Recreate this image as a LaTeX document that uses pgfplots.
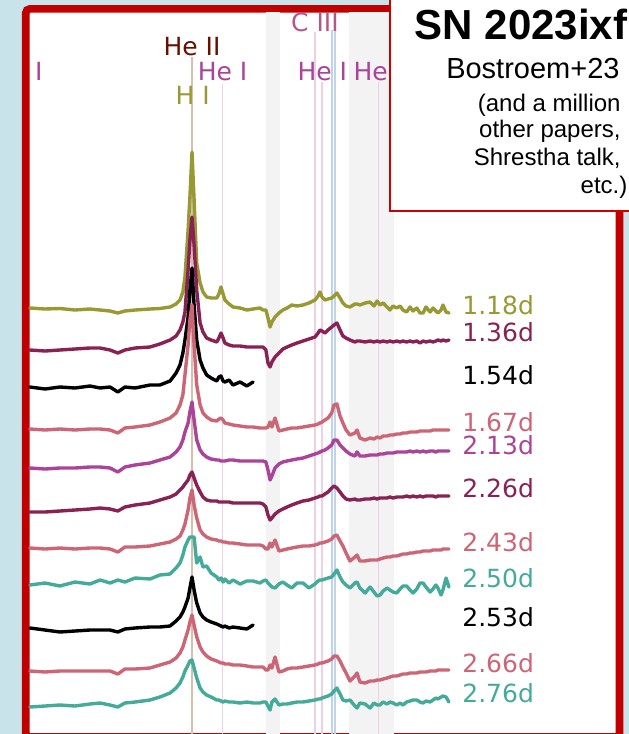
\documentclass[border=0pt]{standalone}
\usepackage{pgfplots}
\pgfplotsset{compat=1.18}
\usepackage{pgfplotstable}
\usepackage{fontspec}
\setmainfont{DejaVu Sans}
\newfontfamily\arialfont{Liberation Sans}

\definecolor{bgblue}{RGB}{200,228,234}
\definecolor{framered}{RGB}{192,0,0}
\definecolor{boxred}{RGB}{204,0,0}
\definecolor{tolive}{HTML}{999933}
\definecolor{twine}{HTML}{882255}
\definecolor{trose}{HTML}{CC6677}
\definecolor{tpurple}{HTML}{AA4499}
\definecolor{tteal}{HTML}{44AA99}
\definecolor{heii}{HTML}{661100}
\definecolor{ciii}{RGB}{180,85,140}
\definecolor{hline}{RGB}{214,192,172}
\definecolor{pline}{RGB}{236,208,228}
\definecolor{bline}{RGB}{192,212,232}
\definecolor{band}{RGB}{243,243,243}

\tikzset{
  spec/.style={line width=1.7pt, line join=round, line cap=round},
  lbl/.style={anchor=base, inner sep=0pt, font=\fontsize{12.5}{15}\selectfont},
  dlbl/.style={anchor=west, inner sep=0pt, font=\fontsize{12.5}{15}\selectfont},
}

% wavelength (A) and offset flux (plotted downward, arbitrary units)
\pgfplotstableread{
lam s1 s2 s3 s4 s5 s6 s7 s8 s9 s10 s11
5942 308 350 387 429 468 512 548 585 628 671 707
6000 309 351 389 430 469 512 549 583 630 672 706
6057 308.5 350 387 429 468 511 548 586 632 671 705
6115 310 349 388 430 468 510 549 582 631 671 706
6172 309 348 386 429 467 509 548 584 630 671 704
6211 310 348 388 429 467 508 548 580 630 671 703
6249 311 350 387 430 468 509 549 583 630 671 705
6279 313 353 392 433 472 511 552 580 632 674 707
6306 311 350 387 428 467 507 547 582 629 669 703
6345 310 348 388 427 465 505 547 578 628 669 702
6402 309 347 385 425 463 503 546 579 627 668 700
6440 308.5 344 385 422 460 500 544 575 627 665 697
6479 307 340 381 418 457 497 542 574 626 662 693
6502 304 336 373 413 452 494 539 568 621 658 688
6517 300 330 365 405 447 490 536 563 617 653 683
6528 292 322 353 395 440 487 530 555 612 647 677
6536 277 312 340 375 432 484 524 547 607 640 671
6548 230 270 317 345 423 480 510 540 598 630 665
6555 197 240 290 320 412 475 498 537 588 622 661
6563 152 217 268 305 402 472 490 537 577 615 660
6571 200 245 305 345 420 478 505 537 590 625 668
6581 263 290 340 385 440 485 518 563 603 637 678
6594 283 323 360 405 450 492 530 557 613 647 688
6605 292 332 368 413 454 497 534 567 617 652 692
6619 297 338 375 417 457 500 537 566 620 656 695
6636 298 340 378 420 459 501 539 573 622 659 697
6658 298 342 381 421 460 501 540 577 624 661 700
6666 294 338 377 419 460 502 541 580 625 662 700
6674 287 333 376 418 461 502 541 578 626 663 701
6682 294 338 381 420 461 502 542 582 627 663 702
6689 300 343 382 423 461 502 542 579 626 664 701
6705 304 345 380 424 460 502 543 583 628 664 702
6720 307 346 385 425 460 503 543 580 627 665 702
6747 308 346 382 426 461 503 544 584 628 665 703
6773 310 347 386 427 461 503 545 581 629 666 702
6797 309 347 382 427 461 503 545 581 625 667 703
6823 308 347 nan 428 461 503 545 583 nan 667 703
6835 310 347 nan 428 461 504 546 581 nan 667 702
6846 310 350 nan 428 462 507 549 580 nan 670 702
6854 318 363 nan 427 470 515 549 583 nan 670 706
6862 327 367 nan 422 480 520 543 585 nan 665 710
6869 322 362 nan 427 476 518 547 587 nan 668 702
6881 317 357 nan 418 468 514 540 588 nan 657 699
6896 313 353 nan 431 464 511 551 584 nan 672 705
6911 310 349 nan 430 462 509 550 582 nan 671 704
6927 308 347 nan 429 461 507 549 585 nan 669 704
6945 305 345 nan 428 460 505 548 588 nan 668 703
6965 306 343 nan 428 459 503 547 583 nan 668 702
6988 305 341 nan 427 458 501 546 583 nan 667 702
7011 303 339 nan 426 456 500 546 588 nan 666 701
7034 300 337 nan 425 454 498 545 584 nan 665 700
7046 296 333 nan 424 453 497 544 581 nan 664 699
7053 292 330 nan 423 452 496 543 580 nan 663 699
7061 297 331 nan 422 451 496 543 580 nan 663 698
7072 300 333 nan 420 450 494 542 579 nan 662 697
7084 299 330 nan 418 448 492 541 578 nan 661 696
7098 298 327 nan 413 445 488 539 577 nan 659 694
7107 296 325 nan 405 440 486 536 574 nan 656 691
7118 293 323 nan 404 440 488 535 570 nan 656 688
7130 298 330 nan 416 445 492 541 577 nan 661 694
7141 303 336 nan 423 448 496 546 582 nan 667 700
7153 306 338 nan 430 451 499 553 585 nan 673 701
7168 307 340 nan 435 454 500 561 588 nan 681 700
7187 304 342 nan 433 456 499 557 583 nan 676 706
7195 304 341 nan 430 452 500 555 582 nan 673 708
7206 305 341 nan 438 456 500 561 588 nan 682 703
7226 303 342 nan 440 456 499 561 593 nan 683 704
7245 302 341 nan 438 455 499 560 587 nan 681 708
7260 306 342 nan 439 455 498 560 592 nan 681 703
7272 301 341 nan 437 455 499 560 596 nan 680 705
7283 305 342 nan 438 454 498 559 595 nan 680 705
7295 303 341 nan 436 454 498 558 591 nan 679 702
7310 307 342 nan 436 453 498 557 588 nan 678 704
7321 310 341 nan 435 453 497 557 590 nan 677 702
7333 306 342 nan 435 453 498 556 592 nan 676 703
7347 308 341 nan 434 452 497 556 593 nan 676 705
7360 306 342 nan 434 452 497 555 589 nan 675 703
7371 310 341 nan 433 452 497 554 586 nan 674 705
7385 312 342 nan 433 452 496 554 586 nan 674 702
7398 307 341 nan 432 451 497 553 590 nan 673 701
7409 311 342 nan 432 452 496 553 593 nan 673 700
7424 308 341 nan 432 451 497 552 589 nan 673 700
7436 313 343 nan 431 452 496 552 583 nan 672 702
7448 313 341 nan 431 451 497 551 583 nan 672 703
7459 307 342 nan 431 452 496 551 587 nan 672 701
7475 312 341 nan 431 451 496 551 592 nan 671 702
7486 308 342 nan 430 451 496 550 589 nan 671 700
7497 311 341 nan 430 452 497 550 585 nan 671 698
7505 313 340 nan 430 451 496 550 588 nan 670 699
7517 310 341 nan 430 451 496 550 595 nan 670 697
7524 305 340 nan 430 451 496 549 590 nan 670 696
7536 312 341 nan 430 451 496 549 578 nan 670 697
7547 313 340 nan 430 451 496 549 587 nan 670 702
}\spectra

\begin{document}
\begin{tikzpicture}
\begin{axis}[
  width=314.5pt, height=367pt, scale only axis,
  xmin=5827.6, xmax=8236.7, ymin=0, ymax=734, y dir=reverse,
  hide axis, clip=true,
]
\coordinate (SW) at (rel axis cs:0,0);
\coordinate (NE) at (rel axis cs:1,1);
% slide background and frame
\fill[bgblue] (axis cs:5700,-20) rectangle (axis cs:8400,760);
\draw[framered, line width=3.8pt, fill=white, rounded corners=2pt]
  (axis cs:5926.4,8.9) rectangle (axis cs:8200.3,737);
\begin{scope}
\clip (axis cs:5941,12.7) rectangle (axis cs:8185.7,740);
% telluric bands
\fill[band] (axis cs:6846,0) rectangle (axis cs:6900,740);
\fill[band] (axis cs:7164,0) rectangle (axis cs:7337,740);
% line markers
\draw[hline, line width=1.1pt] (axis cs:6564,57) -- (axis cs:6564,740);
\draw[pline, line width=0.9pt] (axis cs:6680,84) -- (axis cs:6680,740);
\draw[pline, line width=0.9pt] (axis cs:7034,32) -- (axis cs:7034,740);
\draw[pline, line width=0.9pt] (axis cs:7062,82) -- (axis cs:7062,740);
\draw[bline, line width=1pt] (axis cs:7099,30) -- (axis cs:7099,740);
\draw[bline, line width=1pt] (axis cs:7111,30) -- (axis cs:7111,740);
\draw[pline, line width=0.9pt] (axis cs:7277,82) -- (axis cs:7277,740);
% line labels
\node[lbl, text=tpurple] at (axis cs:5896,80) {He I};
\node[lbl, text=heii] at (axis cs:6563,55) {He II};
\node[lbl, text=tolive] at (axis cs:6566,104) {H I};
\node[lbl, text=tpurple] at (axis cs:6680,80) {He I};
\node[lbl, text=ciii] at (axis cs:7034,31.7) {C III};
\node[lbl, text=tpurple] at (axis cs:7062,80) {He I};
\node[lbl, text=tpurple] at (axis cs:7277,80) {He I};
\end{scope}
% spectra
\addplot[spec, tolive] table[x=lam, y=s1] {\spectra};
\addplot[spec, twine] table[x=lam, y=s2] {\spectra};
\addplot[spec, black] table[x=lam, y=s3] {\spectra};
\addplot[spec, trose] table[x=lam, y=s4] {\spectra};
\addplot[spec, tpurple] table[x=lam, y=s5] {\spectra};
\addplot[spec, twine] table[x=lam, y=s6] {\spectra};
\addplot[spec, trose] table[x=lam, y=s7] {\spectra};
\addplot[spec, tteal] table[x=lam, y=s8] {\spectra};
\addplot[spec, black] table[x=lam, y=s9] {\spectra};
\addplot[spec, trose] table[x=lam, y=s10] {\spectra};
\addplot[spec, tteal] table[x=lam, y=s11] {\spectra};
% epoch labels
\node[dlbl, text=tolive] at (axis cs:7597,305) {1.18d};
\node[dlbl, text=twine] at (axis cs:7597,332) {1.36d};
\node[dlbl, text=black] at (axis cs:7597,375) {1.54d};
\node[dlbl, text=trose] at (axis cs:7597,422) {1.67d};
\node[dlbl, text=tpurple] at (axis cs:7597,445) {2.13d};
\node[dlbl, text=twine] at (axis cs:7597,488) {2.26d};
\node[dlbl, text=trose] at (axis cs:7597,542) {2.43d};
\node[dlbl, text=tteal] at (axis cs:7597,578) {2.50d};
\node[dlbl, text=black] at (axis cs:7597,617) {2.53d};
\node[dlbl, text=trose] at (axis cs:7597,663) {2.66d};
\node[dlbl, text=tteal] at (axis cs:7597,693) {2.76d};
% title box
\draw[boxred, line width=0.75pt, fill=white] (axis cs:7321.3,-10) rectangle (axis cs:8300,211);
\node[anchor=base east, inner sep=0pt, font={\arialfont\bfseries\fontsize{21}{25}\selectfont}] at (axis cs:8232,39) {SN 2023ixf};
\node[anchor=base east, inner sep=0pt, font={\arialfont\fontsize{14.5}{17}\selectfont}] at (axis cs:8202,78) {Bostroem+23};
\node[anchor=base east, inner sep=0pt, font={\arialfont\fontsize{12}{14}\selectfont}] at (axis cs:8206,111) {(and a million};
\node[anchor=base east, inner sep=0pt, font={\arialfont\fontsize{12}{14}\selectfont}] at (axis cs:8206,137) {other papers,};
\node[anchor=base east, inner sep=0pt, font={\arialfont\fontsize{12}{14}\selectfont}] at (axis cs:8206,165) {Shrestha talk,};
\node[anchor=base east, inner sep=0pt, font={\arialfont\fontsize{12}{14}\selectfont}] at (axis cs:8232,193) {etc.)};
\end{axis}
\pgfresetboundingbox
\useasboundingbox (SW) rectangle (NE);
\end{tikzpicture}
\end{document}
